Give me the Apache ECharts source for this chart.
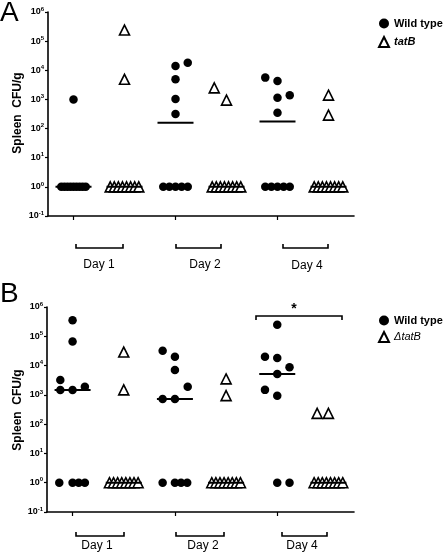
<!DOCTYPE html>
<html>
<head>
<meta charset="utf-8">
<script src="https://cdn.jsdelivr.net/npm/echarts@6/dist/echarts.min.js"></script>
<style>
  html, body { margin: 0; padding: 0; background: #fff; }
  #chart { width: 444px; height: 553px; }
</style>
</head>
<body>
<div id="chart"></div>
<script>
// ---- Data ----
const categories = ['Day 1 WT', 'Day 1 tatB', 'Day 2 WT', 'Day 2 tatB', 'Day 4 WT', 'Day 4 tatB'];
const dayLabels = ['Day 1', 'Day 2', 'Day 4'];
const yAxisTitle = 'Spleen  CFU/g';

// Panel A: [x position (category index + jitter), CFU/g]
const aWildType = [
  [0, 1000],
  [-0.24, 1], [-0.18, 1], [-0.12, 1], [-0.06, 1], [0, 1], [0.06, 1], [0.12, 1], [0.18, 1], [0.24, 1],
  [2, 14000], [2.24, 18000], [2, 4900], [2, 1030], [2, 316],
  [1.76, 1], [1.88, 1], [2, 1], [2.12, 1], [2.24, 1],
  [3.76, 5600], [4, 4300], [4, 1150], [4.24, 1400], [4, 350],
  [3.76, 1], [3.88, 1], [4, 1], [4.12, 1], [4.24, 1]
];
const aTatB = [
  [1, 240000], [1, 4900],
  [0.72, 1], [0.8, 1], [0.88, 1], [0.96, 1], [1.04, 1], [1.12, 1], [1.2, 1], [1.28, 1],
  [2.76, 2500], [3, 950],
  [2.72, 1], [2.8, 1], [2.88, 1], [2.96, 1], [3.04, 1], [3.12, 1], [3.2, 1], [3.28, 1],
  [5, 1400], [5, 290],
  [4.72, 1], [4.8, 1], [4.88, 1], [4.96, 1], [5.04, 1], [5.12, 1], [5.2, 1], [5.28, 1]
];
const aMedians = [1, 1, 158, 1, 175, 1];

// Panel B
const bWildType = [
  [0, 350000], [0, 66000], [-0.24, 3200], [-0.24, 1470], [0, 1470], [0.24, 1900],
  [-0.26, 1], [0, 1], [0.12, 1], [0.24, 1],
  [1.76, 32000], [2, 20000], [2, 7100], [2.25, 1900], [1.76, 720], [2, 720],
  [1.76, 1], [2, 1], [2.12, 1], [2.24, 1],
  [4, 250000], [3.76, 20000], [4, 18000], [4.24, 8700], [4, 5200], [3.76, 1480], [4, 940],
  [4, 1], [4.24, 1]
];
const bDeltaTatB = [
  [1, 29000], [1, 1480],
  [0.72, 1], [0.8, 1], [0.88, 1], [0.96, 1], [1.04, 1], [1.12, 1], [1.2, 1], [1.28, 1],
  [3, 3500], [3, 940],
  [2.72, 1], [2.8, 1], [2.88, 1], [2.96, 1], [3.04, 1], [3.12, 1], [3.2, 1], [3.28, 1],
  [4.78, 234], [5, 234],
  [4.72, 1], [4.8, 1], [4.88, 1], [4.96, 1], [5.04, 1], [5.12, 1], [5.2, 1], [5.28, 1]
];
const bMedians = [1470, 1, 720, 1, 5200, 1];

// ---- Chart ----
const FONT = "'Liberation Sans', Arial, sans-serif";
const chart = echarts.init(document.getElementById('chart'), null, { renderer: 'canvas' });

function yAxisCfg(gridIndex) {
  return {
    type: 'log', logBase: 10, gridIndex: gridIndex,
    min: 0.1, max: 1e6, splitNumber: 7,
    axisLine: { show: true, onZero: false, lineStyle: { color: '#000', width: 1.6 } },
    axisTick: { show: true, length: 3, lineStyle: { color: '#000', width: 1.2 } },
    splitLine: { show: false },
    minorTick: { show: false },
    axisLabel: {
      margin: 4,
      formatter: function (v) {
        const e = Math.round(Math.log10(v));
        return '{b|10}{s|' + e + '}';
      },
      rich: {
        b: { fontFamily: FONT, fontSize: 9, fontWeight: 'bold', color: '#000', lineHeight: 12 },
        s: { fontFamily: FONT, fontSize: 6, fontWeight: 'bold', color: '#000', verticalAlign: 'top', lineHeight: 8 }
      }
    }
  };
}
function catAxisCfg(gridIndex) {
  return {
    type: 'category', gridIndex: gridIndex, data: categories,
    axisLine: { show: true, onZero: false, lineStyle: { color: '#000', width: 1.6 } },
    axisTick: { show: true, alignWithLabel: true, length: 4, lineStyle: { color: '#000', width: 1.2 } },
    axisLabel: { show: false },
    splitLine: { show: false }
  };
}
function valAxisCfg(gridIndex) {
  return { type: 'value', gridIndex: gridIndex, min: -0.5, max: 5.5, show: false, splitLine: { show: false } };
}

const circleStyle = { color: '#000', opacity: 1 };
const triStyle = { color: '#fff', borderColor: '#000', borderWidth: 1.6, opacity: 1 };

function legendCfg(top, names, itemGap) {
  return {
    orient: 'vertical', left: 373, top: top, itemWidth: 10, itemHeight: 10, itemGap: itemGap,
    data: names,
    formatter: function (n) { return n === 'Wild type' ? '{w|' + n + '}' : (n === 'tatB' ? '{i|' + n + '}' : '{d|' + n + '}'); },
    textStyle: {
      rich: {
        w: { fontFamily: FONT, fontSize: 11, fontWeight: 'bold', color: '#000' },
        i: { fontFamily: FONT, fontSize: 11, fontWeight: 'bold', fontStyle: 'italic', color: '#000' },
        d: { fontFamily: FONT, fontSize: 11, fontStyle: 'italic', color: '#000' }
      }
    }
  };
}

const option = {
  animation: false,
  backgroundColor: '#fff',
  grid: [
    { left: 48, top: 12, width: 306, height: 204 },
    { left: 47, top: 307, width: 307, height: 205 }
  ],
  xAxis: [catAxisCfg(0), valAxisCfg(0), catAxisCfg(1), valAxisCfg(1)],
  yAxis: [yAxisCfg(0), yAxisCfg(1)],
  legend: [
    legendCfg(13, ['Wild type', 'tatB'], 7),
    legendCfg(310, ['Wild type', 'ΔtatB'], 5)
  ],
  series: [
    { name: 'Wild type', type: 'scatter', xAxisIndex: 1, yAxisIndex: 0, symbol: 'circle', symbolSize: 8.5, itemStyle: circleStyle, data: aWildType, z: 3 },
    { name: 'tatB', type: 'scatter', xAxisIndex: 1, yAxisIndex: 0, symbol: 'triangle', symbolSize: 10, itemStyle: triStyle, data: aTatB, z: 3 },
    { name: 'medianA', type: 'scatter', xAxisIndex: 0, yAxisIndex: 0, symbol: 'rect', symbolSize: [36, 2], itemStyle: { color: '#000', opacity: 1 }, data: aMedians, z: 4 },
    { name: 'Wild type', type: 'scatter', xAxisIndex: 3, yAxisIndex: 1, symbol: 'circle', symbolSize: 8.5, itemStyle: circleStyle, data: bWildType, z: 3 },
    { name: 'ΔtatB', type: 'scatter', xAxisIndex: 3, yAxisIndex: 1, symbol: 'triangle', symbolSize: 10, itemStyle: triStyle, data: bDeltaTatB, z: 3 },
    { name: 'medianB', type: 'scatter', xAxisIndex: 2, yAxisIndex: 1, symbol: 'rect', symbolSize: [36, 2], itemStyle: { color: '#000', opacity: 1 }, data: bMedians, z: 4 }
  ],
  graphic: []
};

// Annotation graphics (brackets, labels, panel letters)
function bracket(x1, x2, y, up) {
  const d = up ? -4 : 4;
  return { type: 'polyline', shape: { points: [[x1, y + d], [x1, y], [x2, y], [x2, y + d]] },
           style: { stroke: '#000', lineWidth: 1.6, fill: null }, z: 10 };
}
function label(text, x, y, opts, rot) {
  return { type: 'text', x: x, y: y, z: 10, rotation: rot || 0,
    style: Object.assign({ text: text, fontFamily: FONT, fontSize: 12, fill: '#000', align: 'center', verticalAlign: 'middle' }, opts || {}) };
}
const g = option.graphic;
g.push(label('A', 0, 13, { fontSize: 28, align: 'left' }));
g.push(label('B', 0, 294, { fontSize: 28, align: 'left' }));
// Y axis titles
g.push(label(yAxisTitle, 18, 113, { fontSize: 12, fontWeight: 'bold' }, Math.PI / 2));
g.push(label(yAxisTitle, 18, 410, { fontSize: 12, fontWeight: 'bold' }, Math.PI / 2));
// Panel A day brackets
g.push(bracket(76, 123, 248, true), bracket(176, 221, 248, true), bracket(283, 328, 248, true));
g.push(label(dayLabels[0], 99, 265), label(dayLabels[1], 205, 265), label(dayLabels[2], 307, 266));
// Panel B day brackets
g.push(bracket(76, 124, 536, true), bracket(176, 224, 536, true), bracket(282, 327, 536, true));
g.push(label(dayLabels[0], 97, 546), label(dayLabels[1], 203, 546), label(dayLabels[2], 302, 546));
// Significance bracket
g.push(bracket(256, 342, 316, false));
g.push(label('*', 294, 309, { fontSize: 14, fontWeight: 'bold' }));

chart.setOption(option);
</script>
</body>
</html>
